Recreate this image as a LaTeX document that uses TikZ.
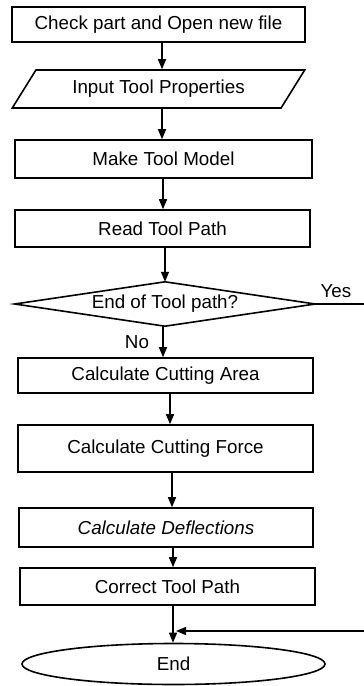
\documentclass[tikz,border=0pt]{standalone}
\usepackage{fontspec}
\setmainfont{Liberation Sans}
\usetikzlibrary{shapes.geometric,arrows.meta}
\begin{document}
\begin{tikzpicture}[x=1pt,y=-1pt,
  every node/.style={font=\fontsize{18.8}{22}\selectfont, inner sep=0pt},
  proc/.style={draw, line width=1.6pt, rectangle, minimum height=37pt},
  arr/.style={line width=1.4pt, -{Triangle[length=10pt,width=8pt]}},
  conn/.style={line width=1.4pt}]
\useasboundingbox (0,0) rectangle (364,686);
\node[proc, minimum width=293pt, minimum height=35pt] (b1) at (158.5,24.5) {Check part and Open new file};
\node[draw, line width=1.6pt, trapezium, trapezium stretches=true,
      trapezium left angle=46.5, trapezium right angle=133.5,
      minimum width=293pt, minimum height=38pt] (inp) at (158.5,89) {Input Tool Properties};
\node[proc, minimum width=297pt, minimum height=38pt] (b3) at (163.5,159) {Make Tool Model};
\node[proc, minimum width=295pt, minimum height=37pt] (b4) at (162.5,228.5) {Read Tool Path};
\node[minimum width=300pt, minimum height=44pt] (dia) at (165,304) {End of Tool path?};
\draw[line width=1.6pt] (dia.north) -- (dia.east) -- (dia.south) -- (dia.west) -- cycle;
\node[proc, minimum width=295pt, minimum height=35pt] (b5) at (165.5,375.5) {Calculate Cutting Area};
\node[proc, minimum width=295pt, minimum height=47pt] (b6) at (165.5,448.5) {Calculate Cutting Force};
\node[proc, minimum width=294pt, minimum height=39pt] (b7) at (166,527.5) {\itshape Calculate Deflections};
\node[proc, minimum width=295pt, minimum height=37pt] (b8) at (167.5,586.5) {Correct Tool Path};
\node[draw, line width=1.6pt, ellipse, minimum width=303pt, minimum height=41pt] (en) at (173.5,664) {End};
\node (yes) at (336,291) {Yes};
\node (no) at (137,342) {No};
\coordinate (j) at (176,631);
\coordinate (r) at (368,304);
\draw[arr] ([xshift=3.5pt]b1.south) -- ([xshift=3.5pt]b1.south |- inp.north);
\draw[arr] ([xshift=3.5pt]inp.south) -- ([xshift=3.5pt]inp.south |- b3.north);
\draw[arr] ([xshift=-0.5pt]b3.south) -- ([xshift=-0.5pt]b3.south |- b4.north);
\draw[arr] ([xshift=2.5pt]b4.south) -- (dia.north);
\draw[arr] ([xshift=-2pt]dia.south) -- ([xshift=-2pt]dia.south |- b5.north);
\draw[arr] ([xshift=4.5pt]b5.south) -- ([xshift=4.5pt]b5.south |- b6.north);
\draw[arr] ([xshift=6.5pt]b6.south) -- ([xshift=6.5pt]b6.south |- b7.north);
\draw[arr] ([xshift=7pt]b7.south) -- ([xshift=7pt]b7.south |- b8.north);
\draw[arr] ([xshift=5.5pt]b8.south) -- ([xshift=5.5pt]b8.south |- en.north);
\draw[conn] (dia.east) -- (r) -- (r |- j);
\draw[arr] (r |- j) -- (j);
\end{tikzpicture}
\end{document}
